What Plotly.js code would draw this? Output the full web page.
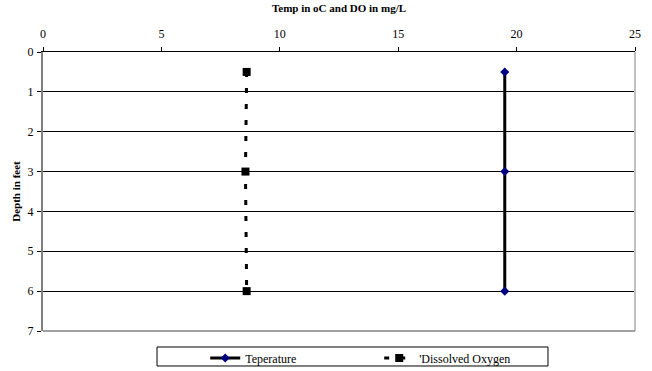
<!DOCTYPE html>
<html><head><meta charset="utf-8">
<script src="https://cdn.plot.ly/plotly-3.0.1.min.js"></script>
<style>body{margin:0;background:#fff}#c{width:652px;height:371px}</style>
</head><body><div id="c"></div>
<script>
const depths = [0.5, 3, 6];
const temperature = [19.5, 19.5, 19.5];
const dissolvedOxygen = [8.6, 8.55, 8.6];
const seriesNames = ['Teperature', "'Dissolved Oxygen"];

const font = 'Liberation Serif';
const traces = [
  {x: temperature, y: depths, name: seriesNames[0], mode: 'lines+markers',
   line: {color: '#000', width: 3}, marker: {symbol: 'diamond', size: 7, color: '#000080'}},
  {x: dissolvedOxygen, y: depths, name: seriesNames[1], mode: 'lines+markers',
   line: {color: '#000', width: 3, dash: '5px,11px'}, marker: {symbol: 'square', size: 8, color: '#000'}}
];
const layout = {
  width: 652, height: 371,
  margin: {l: 43, r: 17, t: 52, b: 40, autoexpand: false},
  paper_bgcolor: '#fff', plot_bgcolor: '#fff',
  font: {family: font, size: 12, color: '#000'},
  showlegend: true,
  xaxis: {side: 'top', range: [0, 25], dtick: 5, showgrid: false, zeroline: false,
    showline: true, linecolor: '#000', linewidth: 1.5, ticks: 'outside', ticklen: 4, tickcolor: '#000',
    ticklabelstandoff: 4, tickfont: {family: font, size: 12},
    title: {text: '<b>Temp in oC and DO in mg/L</b>', font: {family: font, size: 11}, standoff: 12},
    mirror: false},
  yaxis: {range: [7, 0], dtick: 1, showgrid: true, gridcolor: '#000', gridwidth: 1, zeroline: false,
    showline: true, linecolor: '#808080', linewidth: 2, ticks: 'outside', ticklen: 4, tickcolor: '#000',
    ticklabelstandoff: 1, tickfont: {family: font, size: 12},
    title: {text: '<b>Depth in feet</b>', font: {family: font, size: 11}, standoff: 5}},
  shapes: [
    {type: 'line', xref: 'paper', yref: 'paper', x0: 1, x1: 1, y0: 0, y1: 1, line: {color: '#c0c0c0', width: 2}},
    {type: 'line', xref: 'paper', yref: 'paper', x0: 0, x1: 1, y0: 0, y1: 0, line: {color: '#808080', width: 1.5}},
    {type: 'rect', xref: 'paper', yref: 'paper', x0: 0.1926, x1: 0.853, y0: -0.0573, y1: -0.1254, line: {color: '#000', width: 1}}
  ],
  legend: {orientation: 'h', x: 0.274, xanchor: 'left', y: -0.045, yanchor: 'top',
    entrywidth: 129, entrywidthmode: 'pixels', bgcolor: 'rgba(0,0,0,0)',
    font: {family: font, size: 12}, tracegroupgap: 0}
};
Plotly.newPlot('c', traces, layout, {displayModeBar: false, staticPlot: true});
</script></body></html>
